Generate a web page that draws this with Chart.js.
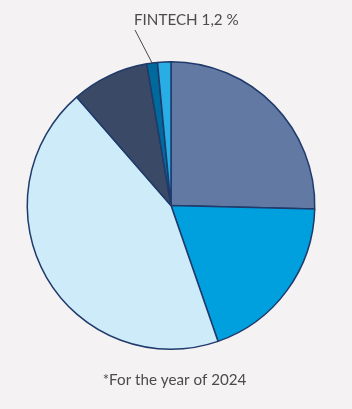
<!DOCTYPE html>
<html>
<head>
<meta charset="utf-8">
<script src="https://cdn.jsdelivr.net/npm/chart.js@4/dist/chart.umd.min.js"></script>
<style>
  html, body { margin: 0; padding: 0; background: #f4f2f3; }
  #wrap { width: 352px; height: 409px; position: relative; }
</style>
</head>
<body>
<div id="wrap"><canvas id="c" width="352" height="409"></canvas></div>
<script>
const categories = ["Segment A", "Segment B", "Segment C", "Segment D", "FINTECH", "Segment F"];
const shares = [25.4, 19.3, 43.9, 8.7, 1.2, 1.5];
const sliceColors = ["#6279a4", "#00a0df", "#cdebf8", "#3a4a66", "#006a9c", "#28ade5"];
const calloutIndex = 4;
const calloutText = "FINTECH 1,2 %";
const footnote = "*For the year of 2024";

const textPlugin = {
  id: 'texts',
  afterDraw(chart) {
    const ctx = chart.ctx;
    ctx.save();
    const arc = chart.getDatasetMeta(0).data[calloutIndex];
    const mid = (arc.startAngle + arc.endAngle) / 2;
    const px = arc.x + Math.cos(mid) * arc.outerRadius;
    const py = arc.y + Math.sin(mid) * arc.outerRadius;
    ctx.strokeStyle = '#4a4a4a';
    ctx.lineWidth = 1;
    ctx.beginPath();
    ctx.moveTo(135, 30);
    ctx.lineTo(px, py);
    ctx.stroke();
    ctx.fillStyle = '#4d4a4b';
    ctx.font = '15.2px Lato';
    ctx.textAlign = 'left';
    ctx.textBaseline = 'alphabetic';
    ctx.fillText(calloutText, 134, 25);
    ctx.textAlign = 'center';
    ctx.fillText(footnote, 174.5, 385);
    ctx.restore();
  }
};

new Chart(document.getElementById('c'), {
  type: 'pie',
  data: {
    labels: categories,
    datasets: [{
      data: shares,
      backgroundColor: sliceColors,
      borderColor: '#1f3a6b',
      borderWidth: 1.5
    }]
  },
  options: {
    responsive: false,
    animation: false,
    layout: { padding: { left: 26.5, right: 36.5, top: 61, bottom: 59 } },
    plugins: { legend: { display: false }, tooltip: { enabled: false } }
  },
  plugins: [textPlugin]
});
</script>
</body>
</html>
